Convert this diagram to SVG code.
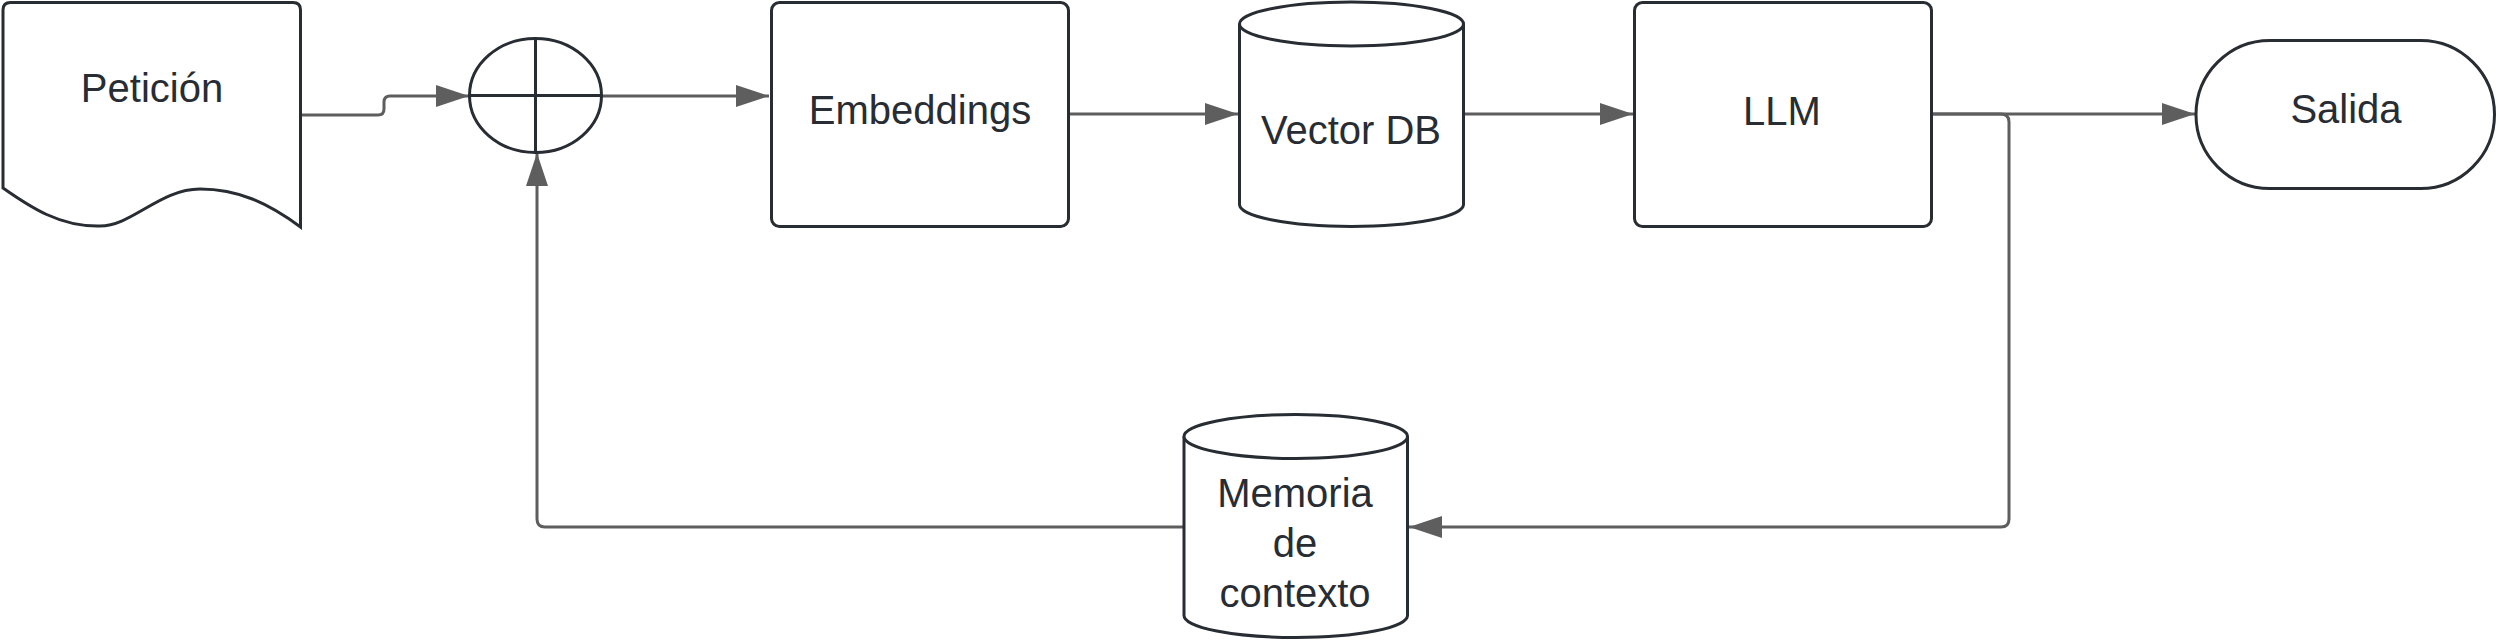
<svg xmlns="http://www.w3.org/2000/svg" width="2498" height="641" viewBox="0 0 2498 641">
<style>
.shape{fill:#ffffff;stroke:#282c33;stroke-width:3}
.conn{fill:none;stroke:#5e5e5e;stroke-width:3}
.lbl{font-family:"Liberation Sans",Arial,sans-serif;font-size:40px;fill:#282c33;text-anchor:middle}
</style>
<defs>
<marker id="arr" markerUnits="userSpaceOnUse" markerWidth="34" markerHeight="24" refX="33" refY="11" orient="auto">
<path d="M0,0 L33,11 L0,22 Z" fill="#5e5e5e"/>
</marker>
</defs>
<rect width="2498" height="641" fill="#ffffff"/>
<g id="connectors">
<path class="conn" d="M302,115 L378,115 Q384,115 384,109 L384,102 Q384,96 390,96 L469,96" marker-end="url(#arr)"/>
<path class="conn" d="M602,96 L769,96" marker-end="url(#arr)"/>
<path class="conn" d="M1070,114 L1238,114" marker-end="url(#arr)"/>
<path class="conn" d="M1465,114 L1633,114" marker-end="url(#arr)"/>
<path class="conn" d="M1933,114 L2195,114" marker-end="url(#arr)"/>
<path class="conn" d="M1933,114 L2001,114 Q2009,114 2009,122 L2009,519 Q2009,527 2001,527 L1409,527" marker-end="url(#arr)"/>
<path class="conn" d="M1184,527 L545,527 Q537,527 537,519 L537,153" marker-end="url(#arr)"/>
</g>
<g id="peticion">
<path class="shape" d="M3,188 L3,10 Q3,2.5 10.5,2.5 L293,2.5 Q300.5,2.5 300.5,10 L300.5,227 C268,203 238,189 200,189 C160,189 132,226 100,226 C60,227 30,207 3,188 Z"/>
<text class="lbl" x="152" y="102">Petición</text>
</g>
<g id="sumador">
<ellipse class="shape" cx="535.5" cy="95.5" rx="66" ry="57"/>
<path d="M535.5,38.5 L535.5,152.5 M469.5,95.5 L601.5,95.5" stroke="#282c33" stroke-width="3" fill="none"/>
</g>
<g id="embeddings">
<rect class="shape" x="771.5" y="2.5" width="297" height="224" rx="8"/>
<text class="lbl" x="920" y="124">Embeddings</text>
</g>
<g id="vectordb">
<path class="shape" d="M1239.5,24 L1239.5,204.5 A112,22 0 0 0 1463.5,204.5 L1463.5,24"/>
<ellipse class="shape" cx="1351.5" cy="24" rx="112" ry="22"/>
<text class="lbl" x="1351" y="144">Vector DB</text>
</g>
<g id="llm">
<rect class="shape" x="1634.5" y="2.5" width="297" height="224" rx="8"/>
<text class="lbl" x="1782" y="125">LLM</text>
</g>
<g id="salida">
<rect class="shape" x="2196" y="40.5" width="298.5" height="148" rx="74"/>
<text class="lbl" x="2346" y="123">Salida</text>
</g>
<g id="memoria">
<path class="shape" d="M1184,436.5 L1184,615.5 A111.75,22 0 0 0 1407.5,615.5 L1407.5,436.5"/>
<ellipse class="shape" cx="1295.75" cy="436.5" rx="111.75" ry="22"/>
<text class="lbl" x="1295" y="507">Memoria</text>
<text class="lbl" x="1295" y="557">de</text>
<text class="lbl" x="1295" y="607">contexto</text>
</g>
</svg>
